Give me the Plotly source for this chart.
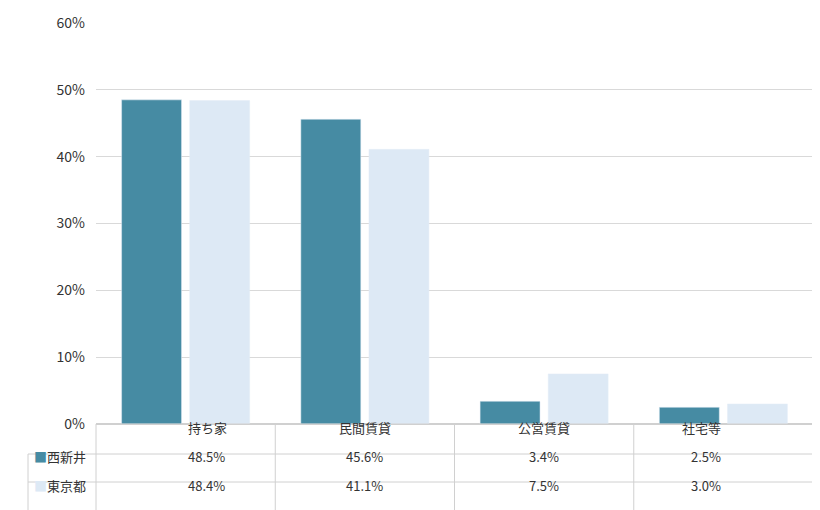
import plotly.graph_objects as go

categories = ["持ち家", "民間賃貸", "公営賃貸", "社宅等"]
series_names = ["西新井", "東京都"]
nishiarai = [48.5, 45.6, 3.4, 2.5]
tokyo = [48.4, 41.1, 7.5, 3.0]
colors = ["#468BA3", "#DDE9F5"]
FONT = "Noto Sans CJK JP"

fig = go.Figure()
for name, vals, c in zip(series_names, [nishiarai, tokyo], colors):
    fig.add_trace(go.Bar(x=categories, y=vals, name=name, marker_color=c))

H = 401.0
def py(pix):  # pixel y below plot bottom -> paper
    return -pix / H

shapes = []
lc = "#D0D0D0"
xl = -68 / 717.0
for yy, x0 in [(0, 0), (30, xl), (58, xl), (87, xl)]:
    shapes.append(dict(type="line", xref="paper", yref="paper", x0=x0, x1=1, y0=py(yy), y1=py(yy), line=dict(color=lc, width=1)))
for xx in [0, 0.25, 0.5, 0.75, 1]:
    shapes.append(dict(type="line", xref="paper", yref="paper", x0=xx, x1=xx, y0=0, y1=py(87), line=dict(color=lc, width=1)))
shapes.append(dict(type="line", xref="paper", yref="paper", x0=xl, x1=xl, y0=py(30), y1=py(87), line=dict(color=lc, width=1)))

ann = []
for i, cat in enumerate(categories):
    ann.append(dict(x=0.125 + 0.25 * i, y=py(15), xref="paper", yref="paper", text=cat, showarrow=False, font=dict(size=13, color="#333")))
    for r, vals in enumerate([nishiarai, tokyo]):
        ann.append(dict(x=0.125 + 0.25 * i, y=py(44 + 29 * r), xref="paper", yref="paper", text=f"{vals[i]:.1f}%", showarrow=False, font=dict(size=13, color="#333")))
for r, (name, c) in enumerate(zip(series_names, colors)):
    ann.append(dict(x=xl + 4 / 717, y=py(44 + 29 * r), xref="paper", yref="paper", xanchor="left", showarrow=False,
                    text=f"<span style='color:{c}'>■</span>{name}", font=dict(size=13, color="#333")))

fig.update_layout(
    width=820, height=510,
    margin=dict(l=88, r=15, t=15, b=94, autoexpand=False),
    plot_bgcolor="white", paper_bgcolor="white",
    font=dict(family=FONT, size=14, color="#333"),
    barmode="group", bargap=0.24, bargroupgap=0.12,
    showlegend=False,
    xaxis=dict(showticklabels=False, showline=False, ticks="", automargin=False),
    yaxis=dict(range=[0, 60], dtick=10, ticksuffix="%", gridcolor="#D9D9D9", zeroline=True, zerolinecolor="#D0D0D0", ticklabelstandoff=10, automargin=False),
    shapes=shapes, annotations=ann,
)
fig.write_html("out.html")
